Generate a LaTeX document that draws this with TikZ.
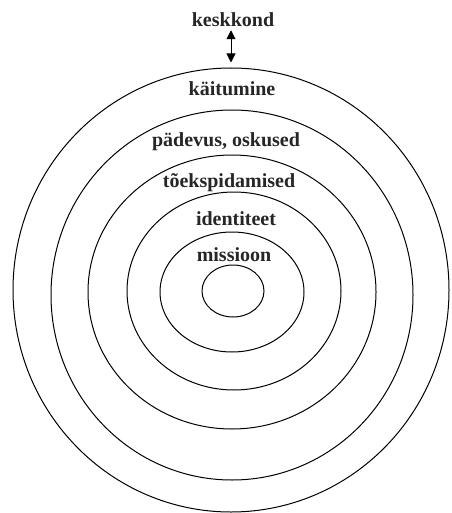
\documentclass[tikz,border=0pt]{standalone}
\usepackage{fontspec}
\setmainfont{Liberation Serif}
\usetikzlibrary{shapes.geometric,arrows.meta}
\begin{document}
\begin{tikzpicture}[x=1pt,y=1pt,
  ring/.style={ellipse,draw=black,line width=1pt,inner sep=0pt},
  lbl/.style={font=\fontsize{20}{21}\selectfont\bfseries,text=black!85,inner sep=0pt},
  tip/.style={Triangle[length=9pt,width=9pt]}]
\useasboundingbox (0,0) rectangle (451,-513);
\node[ring,minimum width=436,minimum height=444] (e1) at (231,-290) {};
\node[ring,minimum width=362,minimum height=370] (e2) at (232,-295) {};
\node[ring,minimum width=288,minimum height=274] (e3) at (232,-292) {};
\node[ring,minimum width=214,minimum height=198] (e4) at (234,-291) {};
\node[ring,minimum width=144,minimum height=120] (e5) at (232,-292) {};
\node[ring,minimum width=62,minimum height=52] (e6) at (233,-291) {};
\node[lbl] (kesk) at (233,-20) {keskkond};
\node[lbl] (kait) at (232,-89) {käitumine};
\node[lbl] (pad) at (226,-142) {pädevus, oskused};
\node[lbl] (toe) at (229,-183) {tõekspidamised};
\node[lbl] (ident) at (236,-219) {identiteet};
\node[lbl] (miss) at (234,-255) {missioon};
\draw[line width=1pt,{Triangle[length=9pt,width=9pt]}-{Triangle[length=9pt,width=9pt]},shorten <=3pt,shorten >=5pt] (kesk.south -| e1.north) -- (e1.north);
\end{tikzpicture}
\end{document}
